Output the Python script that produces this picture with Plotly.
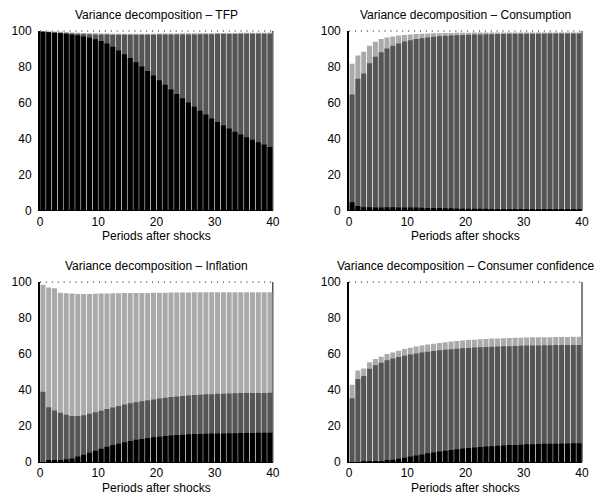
import plotly.graph_objects as go
from plotly.subplots import make_subplots

periods = list(range(1, 41))

# Cumulative shares (%) : black = shock 1, dark = shock 1+2, light = shock 1+2+3
tfp_black = [99.6,99.3,99.0,98.7,98.4,98.0,97.6,97.0,96.3,95.4,94.4,93.0,91.2,89.2,87.1,84.9,82.6,80.2,77.7,75.2,
             72.6,70.0,67.4,64.9,62.5,60.1,57.8,55.6,53.4,51.3,49.3,47.4,45.6,43.9,42.3,40.8,39.4,38.0,36.7,35.3]
tfp_dark = [99.7,99.4,99.2,99.0,98.8,98.6,98.4,98.3,98.2,98.1,98.0,98.0,97.9,97.9,97.9,97.9,97.9,97.9,97.9,97.9,
            98.0,98.0,98.0,98.0,98.1,98.1,98.1,98.2,98.2,98.2,98.3,98.3,98.3,98.3,98.4,98.4,98.4,98.4,98.4,98.5]
tfp_light = [99.9,99.8,99.7,99.6,99.4,99.2,99.0,98.9,98.8,98.7,98.6,98.6,98.5,98.5,98.5,98.5,98.5,98.5,98.5,98.5,
             98.6,98.6,98.6,98.6,98.7,98.7,98.7,98.8,98.8,98.8,98.9,98.9,98.9,98.9,99.0,99.0,99.0,99.0,99.0,99.1]

cons_black = [4.5,2.5,1.8,1.8,1.7,1.7,1.8,1.8,1.7,1.7,1.6,1.6,1.5,1.4,1.4,1.3,1.2,1.2,1.1,1.0,
              1.0,0.9,0.9,0.9,0.8,0.8,0.8,0.7,0.7,0.7,0.7,0.6,0.6,0.6,0.6,0.6,0.5,0.5,0.5,0.5]
cons_dark = [64.6,73.4,76.3,82.0,85.7,88.2,90.2,91.8,93.1,94.2,94.9,95.5,96.0,96.4,96.8,97.1,97.3,97.5,97.7,97.8,
             97.9,98.0,98.1,98.2,98.2,98.3,98.3,98.4,98.4,98.4,98.5,98.5,98.5,98.5,98.6,98.6,98.6,98.6,98.6,98.6]
cons_light = [81.8,86.3,88.4,91.8,94.0,95.5,96.4,97.0,97.5,97.8,98.1,98.3,98.5,98.6,98.7,98.8,98.9,98.9,99.0,99.0,
              99.0,99.1,99.1,99.1,99.1,99.1,99.2,99.2,99.2,99.2,99.2,99.2,99.2,99.2,99.2,99.2,99.2,99.2,99.2,99.2]

inf_black = [0.0,0.8,0.8,0.8,1.5,2.0,3.0,4.0,5.2,6.3,7.4,8.5,9.4,10.2,11.0,11.7,12.3,12.8,13.3,13.7,
             14.1,14.4,14.7,15.0,15.2,15.4,15.5,15.6,15.7,15.8,15.9,15.9,16.0,16.0,16.1,16.1,16.1,16.2,16.2,16.2]
inf_dark = [39.1,30.5,28.6,27.4,26.3,25.6,25.6,26.0,26.8,27.6,28.5,29.4,30.3,31.1,31.9,32.6,33.2,33.8,34.3,34.8,
            35.3,35.7,36.1,36.4,36.7,37.0,37.2,37.4,37.6,37.7,37.9,38.0,38.1,38.2,38.3,38.3,38.4,38.4,38.4,38.5]
inf_light = [98.5,97.0,96.6,94.1,93.8,93.6,93.4,93.4,93.4,93.5,93.6,93.7,93.8,93.8,93.9,93.9,94.0,94.0,94.0,94.1,
             94.1,94.1,94.2,94.2,94.2,94.2,94.3,94.3,94.3,94.3,94.3,94.3,94.3,94.4,94.4,94.4,94.4,94.4,94.4,94.4]

conf_black = [0.0,0.0,0.1,0.2,0.3,0.5,0.8,1.2,1.8,2.4,3.0,3.6,4.2,4.8,5.3,5.8,6.3,6.7,7.1,7.5,
              7.8,8.1,8.4,8.6,8.8,9.0,9.2,9.4,9.5,9.6,9.8,9.9,10.0,10.1,10.2,10.2,10.3,10.3,10.4,10.4]
conf_dark = [35.4,46.1,47.8,51.8,53.8,55.2,56.5,57.5,58.3,59.0,59.7,60.3,60.8,61.3,61.7,62.1,62.4,62.7,63.0,63.2,
             63.4,63.6,63.8,63.9,64.1,64.2,64.3,64.4,64.5,64.6,64.7,64.8,64.8,64.9,64.9,65.0,65.0,65.1,65.1,65.1]
conf_light = [43.0,50.9,52.0,55.4,57.2,58.5,60.0,60.9,61.8,62.8,63.5,64.2,64.8,65.3,65.8,66.2,66.6,67.0,67.3,67.6,
              67.8,68.0,68.2,68.4,68.6,68.7,68.8,68.9,69.0,69.1,69.2,69.3,69.3,69.4,69.4,69.5,69.5,69.5,69.6,69.6]

titles = ["Variance decomposition \u2013 TFP", "Variance decomposition \u2013 Consumption",
          "Variance decomposition \u2013 Inflation", "Variance decomposition \u2013 Consumer confidence"]
xtick_vals = [0, 10, 20, 30, 40]
ytick_vals = [0, 20, 40, 60, 80, 100]
x_title = "Periods after shocks"

panels = [
    (1, 1, tfp_black, tfp_dark, tfp_light),
    (1, 2, cons_black, cons_dark, cons_light),
    (2, 1, inf_black, inf_dark, inf_light),
    (2, 2, conf_black, conf_dark, conf_light),
]

colors = {"light": "#aaaaaa", "dark": "#555555", "black": "#000000"}
FONT = "Liberation Sans, Arial, Helvetica, sans-serif"

fig = make_subplots(rows=2, cols=2)

for (r, c, blk, drk, lgt) in panels:
    for vals, col in ((lgt, colors["light"]), (drk, colors["dark"]), (blk, colors["black"])):
        fig.add_trace(go.Bar(x=periods, y=vals, width=0.86, offset=-0.93,
                             marker=dict(color=col, line=dict(width=0)),
                             showlegend=False, hoverinfo="skip"), row=r, col=c)

xdom = {1: [0.0, 0.4296], 2: [0.5704, 1.0]}
ydom = {1: [0.5837, 1.0], 2: [0.0, 0.4174]}

shapes = []
annotations = []
for i, (r, c, *_rest) in enumerate(panels):
    ax = "" if i == 0 else str(i + 1)
    fig.layout["xaxis" + ax].update(domain=xdom[c], range=[0, 40], tickvals=xtick_vals,
                                    showline=True, linecolor="black", linewidth=1, mirror=False,
                                    showgrid=False, zeroline=False, ticks="", ticklen=0,
                                    layer="above traces",
                                    tickfont=dict(size=12, color="black", family=FONT))
    fig.layout["yaxis" + ax].update(domain=ydom[r], range=[0, 100], tickvals=ytick_vals,
                                    showline=True, linecolor="black", linewidth=2, mirror=False,
                                    showgrid=False, zeroline=False, ticks="outside", ticklen=4,
                                    tickcolor="rgba(0,0,0,0)", layer="above traces",
                                    tickfont=dict(size=12, color="black", family=FONT))
    xr = "x" + ax + " domain"
    yr = "y" + ax + " domain"
    shapes.append(dict(type="line", xref=xr, yref=yr, x0=1, x1=1, y0=0, y1=1,
                       line=dict(color="black", width=1), layer="below"))
    shapes.append(dict(type="line", xref=xr, yref=yr, x0=0, x1=1, y0=1, y1=1,
                       line=dict(color="black", width=1, dash="1px,4.9px"), layer="below"))
    annotations.append(dict(text=titles[i], xref=xr, yref=yr, x=0.5, y=1, xanchor="center",
                            yanchor="middle", yshift=16, showarrow=False,
                            font=dict(size=12, color="black", family=FONT)))
    annotations.append(dict(text=x_title, xref=xr, yref=yr, x=0.5, y=0, xanchor="center",
                            yanchor="middle", yshift=-26, showarrow=False,
                            font=dict(size=12, color="black", family=FONT)))

fig.update_layout(width=601, height=495, barmode="overlay",
                  margin=dict(l=39, r=15, t=30.5, b=33.3),
                  paper_bgcolor="white", plot_bgcolor="white",
                  shapes=shapes, annotations=annotations,
                  font=dict(family=FONT, size=12, color="black"))

fig.write_html("out.html")
